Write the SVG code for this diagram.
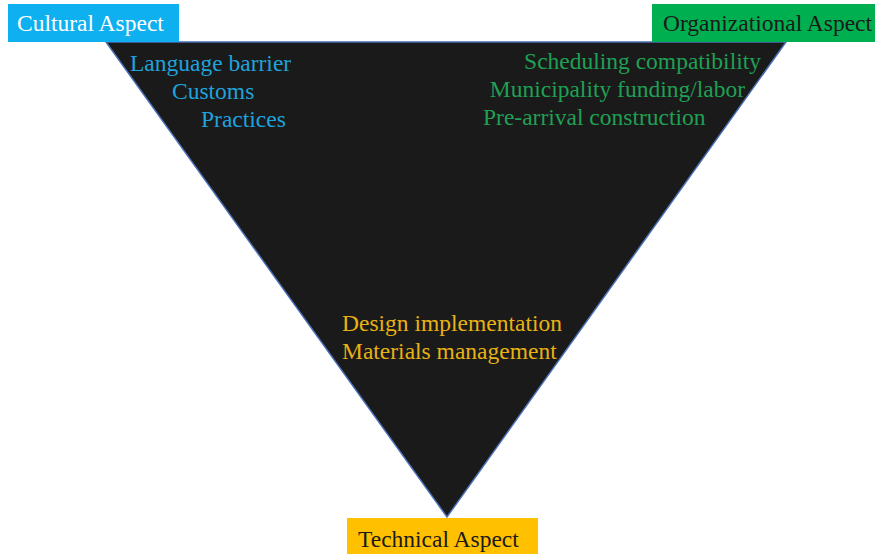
<svg xmlns="http://www.w3.org/2000/svg" width="875" height="554" viewBox="0 0 875 554">
  <style>
    text { font-family: "Liberation Serif", "Times New Roman", serif; font-size: 23.5px; }
    .blue { fill: #1fa3dc; }
    .green { fill: #1fa055; }
    .gold { fill: #e8b214; }
  </style>
  <rect width="875" height="554" fill="#ffffff"/>

  <!-- central inverted triangle -->
  <g id="triangle">
    <polygon points="106,42 786,42 447,517" fill="#1a1a1a" stroke="#4a6fb5" stroke-width="1.5" stroke-linejoin="miter"/>
  </g>

  <g id="connectors"></g>

  <!-- cultural aspect -->
  <g id="cultural">
    <rect x="8" y="4" width="171" height="38" fill="#0fb0ef"/>
    <text x="17" y="31" fill="#ffffff">Cultural Aspect</text>
    <text class="blue" x="130" y="71">Language barrier</text>
    <text class="blue" x="172" y="99">Customs</text>
    <text class="blue" x="201" y="127">Practices</text>
  </g>

  <!-- organizational aspect -->
  <g id="organizational">
    <rect x="652" y="4" width="223" height="38" fill="#00b050"/>
    <text x="663" y="31" fill="#1a1a1a">Organizational Aspect</text>
    <text class="green" x="761" y="69" text-anchor="end">Scheduling compatibility</text>
    <text class="green" x="745" y="97" text-anchor="end">Municipality funding/labor</text>
    <text class="green" x="483" y="125">Pre-arrival construction</text>
  </g>

  <!-- technical aspect -->
  <g id="technical">
    <rect x="347" y="518" width="191" height="36" fill="#ffc000"/>
    <text x="358" y="547" fill="#1a1a1a">Technical Aspect</text>
    <text class="gold" x="342" y="331">Design implementation</text>
    <text class="gold" x="342" y="359">Materials management</text>
  </g>
</svg>
